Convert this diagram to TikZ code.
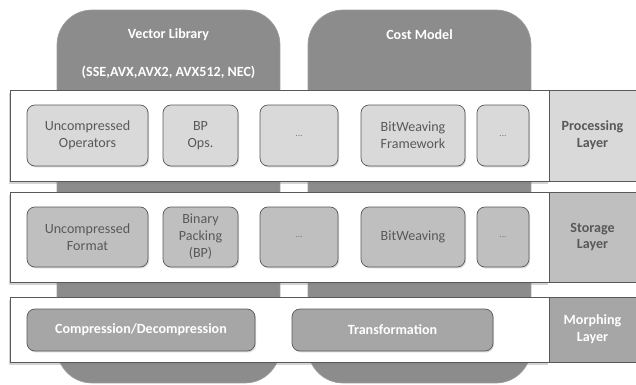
\documentclass[tikz,border=0pt]{standalone}
\usepackage{fontspec}
\setmainfont{Carlito}
\usetikzlibrary{shadows}

\definecolor{pillargray}{HTML}{8C8C8C}
\definecolor{procgray}{HTML}{D9D9D9}
\definecolor{storgray}{HTML}{BFBFBF}
\definecolor{morphgray}{HTML}{A6A6A6}
\definecolor{linegray}{HTML}{595959}
\definecolor{textgray}{HTML}{595959}

\tikzset{
  pillar/.style={draw=linegray!60, fill=pillargray, rounded corners=0.7cm, inner sep=0pt},
  pillartext/.style={text=white, font=\fontsize{8}{9.6}\selectfont\bfseries},
  band/.style={draw=linegray, fill=white, inner sep=0pt,
    drop shadow={shadow xshift=-0.5pt, shadow yshift=-1.5pt, opacity=0.35}},
  layerbox/.style={draw=linegray, inner sep=0pt, align=center,
    font=\fontsize{8}{9.6}\selectfont\bfseries},
  compbox/.style={draw=linegray, rounded corners=4.5pt, inner sep=1pt, align=center,
    text=textgray, font=\fontsize{8}{9.6}\selectfont,
    drop shadow={shadow xshift=0.6pt, shadow yshift=-0.8pt, opacity=0.3}},
  dotsbox/.style={compbox, font=\fontsize{5.5}{6}\selectfont, text=textgray!80}
}

\begin{document}
\begin{tikzpicture}[x=0.02cm, y=-0.02cm]
    \useasboundingbox (0,0) rectangle (636,385);

    % Pillars behind the layers
    \node[pillar, minimum width=4.46cm, minimum height=7.46cm] (veclib) at (168.5,196.5) {};
    \node[pillar, minimum width=4.46cm, minimum height=7.46cm] (costmodel) at (419.5,196.5) {};
    \node[pillartext] (veclibtitle) at (168.5,35) {Vector Library};
    \node[pillartext] (veclibsub) at (168.5,72) {(SSE,AVX,AVX2, AVX512, NEC)};
    \node[pillartext] (costtitle) at (419.5,35) {Cost Model};

    % Processing layer
    \node[band, minimum width=10.78cm, minimum height=1.82cm] (procband) at (279.5,135.5) {};
    \node[layerbox, fill=procgray, text=textgray, minimum width=1.74cm, minimum height=1.82cm] (proclabel) at (592.5,135.5) {Processing\\Layer};
    \node[compbox, fill=procgray, minimum width=2.42cm, minimum height=1.22cm] (uncops) at (87.5,135.5) {Uncompressed\\Operators};
    \node[compbox, fill=procgray, minimum width=1.5cm, minimum height=1.22cm] (bpops) at (200.5,135.5) {BP\\Ops.};
    \node[dotsbox, fill=procgray, minimum width=1.56cm, minimum height=1.22cm] (procdotsa) at (299,135.5) {...};
    \node[compbox, fill=procgray, minimum width=2.08cm, minimum height=1.22cm] (bwframe) at (413,135.5) {BitWeaving\\Framework};
    \node[dotsbox, fill=procgray, minimum width=1.04cm, minimum height=1.22cm] (procdotsb) at (503,135.5) {...};

    % Storage layer
    \node[band, minimum width=10.78cm, minimum height=1.8cm] (storband) at (279.5,237) {};
    \node[layerbox, fill=storgray, text=textgray, minimum width=1.74cm, minimum height=1.8cm] (storlabel) at (592.5,237) {Storage\\Layer};
    \node[compbox, fill=storgray, minimum width=2.42cm, minimum height=1.2cm] (uncfmt) at (87.5,237) {Uncompressed\\Format};
    \node[compbox, fill=storgray, minimum width=1.5cm, minimum height=1.2cm] (binpack) at (200.5,237) {Binary\\Packing\\(BP)};
    \node[dotsbox, fill=storgray, minimum width=1.56cm, minimum height=1.2cm] (stordotsa) at (299,237) {...};
    \node[compbox, fill=storgray, minimum width=2.08cm, minimum height=1.2cm] (bitweaving) at (413,237) {BitWeaving};
    \node[dotsbox, fill=storgray, minimum width=1.04cm, minimum height=1.2cm] (stordotsb) at (503,237) {...};

    % Morphing layer
    \node[band, minimum width=10.78cm, minimum height=1.3cm] (morphband) at (279.5,329.5) {};
    \node[layerbox, fill=morphgray, text=white, minimum width=1.74cm, minimum height=1.3cm] (morphlabel) at (592.5,329.5) {Morphing\\Layer};
    \node[compbox, fill=morphgray, text=white, font=\fontsize{8}{9.6}\selectfont\bfseries, minimum width=4.56cm, minimum height=0.84cm] (compdecomp) at (141,330) {Compression/Decompression};
    \node[compbox, fill=morphgray, text=white, font=\fontsize{8}{9.6}\selectfont\bfseries, minimum width=4.02cm, minimum height=0.84cm] (transform) at (392.5,330) {Transformation};
\end{tikzpicture}
\end{document}
